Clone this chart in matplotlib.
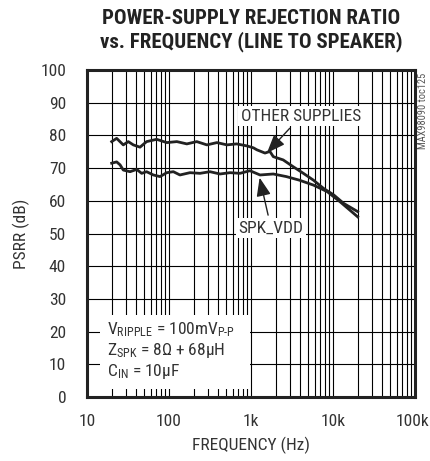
import numpy as np
import matplotlib.pyplot as plt
import matplotlib.transforms as mtransforms
from matplotlib import font_manager as fm
from matplotlib.patches import Rectangle

# look for a narrow sans face; fall back to Liberation Sans
names = sorted(set(f.name for f in fm.fontManager.ttflist))
stretchy = sorted(set(f.name for f in fm.fontManager.ttflist
                      if f.stretch in ('condensed', 'semi-condensed', 'extra-condensed')))
fam = 'Liberation Sans'
stretch = 'normal'
for want in ['Liberation Sans Narrow', 'Roboto Condensed', 'DejaVu Sans Condensed',
             'Open Sans Condensed', 'Noto Sans Condensed']:
    if want in names:
        fam = want
        break
else:
    for n in ['DejaVu Sans', 'Noto Sans', 'Roboto', 'Open Sans']:
        if n in stretchy:
            fam = n
            stretch = 'condensed'
            break

plt.rcParams['font.family'] = [fam, 'DejaVu Sans']
plt.rcParams['font.stretch'] = stretch
plt.rcParams['mathtext.fontset'] = 'custom'
plt.rcParams['mathtext.rm'] = fam
plt.rcParams['mathtext.it'] = fam

FS = 12.5 if fam != 'Liberation Sans' else 11.5

# data
other_f = [20, 23, 27.7, 31.9, 36.7, 44.3, 53.3, 70.7, 93.9, 124.6, 165, 218,
           290, 384, 509, 668, 888, 1070, 1178, 1480, 1700, 1870, 2470, 3280,
           4350, 5780, 7660, 10200, 13500, 20000]
other_db = [78.1, 79.1, 77.1, 78.1, 77.1, 76.4, 78.1, 78.8, 77.8, 78.1, 77.4, 78.1,
            77.1, 77.8, 77.1, 77.4, 76.8, 76.2, 75.6, 74.6, 75.1, 73.5, 72.5, 70.4,
            68.4, 66.3, 63.8, 61.8, 59.2, 56.7]

spk_f = [20, 23, 25.3, 27.7, 33.5, 40.4, 46.4, 53.3, 64.4, 77.7, 93.9, 113,
         136, 180, 239, 316, 419, 555, 734, 970, 1290, 1870, 2700, 3900,
         5780, 8500, 12200, 20000]
spk_db = [71.5, 71.9, 71.0, 69.4, 68.9, 69.6, 68.4, 68.9, 67.9, 67.4, 68.6, 68.9,
          67.9, 68.6, 68.4, 68.9, 68.2, 68.6, 68.4, 69.2, 67.9, 68.2, 67.4, 66.3,
          64.8, 62.8, 59.7, 55.1]

xticks = [10, 100, 1000, 10000, 100000]
xlabels = ['10', '100', '1k', '10k', '100k']
yticks = list(range(0, 101, 10))

fig = plt.figure(figsize=(4.3, 4.61), dpi=100)
ax = fig.add_axes([87/430, 1-397/461, 328/430, 327/461])

ax.plot(other_f, other_db, color='#222222', lw=2.0, zorder=4)
ax.plot(spk_f, spk_db, color='#222222', lw=2.0, zorder=4)

ax.set_xscale('log')
ax.set_xlim(10, 100000)
ax.set_ylim(0, 100)
ax.set_xticks(xticks)
ax.set_xticklabels(xlabels)
ax.set_yticks(yticks)
ax.grid(which='both', color='black', lw=0.8)
ax.tick_params(which='both', length=0, labelsize=FS, colors='#333333')
ax.tick_params(axis='x', pad=12)
ax.tick_params(axis='y', pad=15)
for s in ax.spines.values():
    s.set_linewidth(2.2)
    s.set_color('#222222')
    s.set_zorder(6)

# last x label sits against the right edge, keep it inside the picture
last = ax.get_xticklabels()[-1]
last.set_horizontalalignment('right')
last.set_transform(last.get_transform() +
                   mtransforms.ScaledTranslation(14/100, 0, fig.dpi_scale_trans))

ax.set_xlabel('FREQUENCY (Hz)', fontsize=FS, color='#333333', va='center')
ax.xaxis.set_label_coords(0.5, -0.148)
ax.set_ylabel('PSRR (dB)', fontsize=FS, color='#333333', va='center')
ax.yaxis.set_label_coords(-0.2, 0.5)

# conditions box
ax.add_patch(Rectangle((0.04, 0.025), 0.457, 0.225, transform=ax.transAxes,
                       facecolor='white', edgecolor='none', zorder=3))
cond = [r'$\mathrm{V_{RIPPLE}}$ = 100mV$\mathrm{_{P\text{-}P}}$',
        r'$\mathrm{Z_{SPK}}$ = 8$\Omega$ + 68µH',
        r'$\mathrm{C_{IN}}$ = 10µF']
for i, t in enumerate(cond):
    ax.text(0.061, 0.205 - i*0.064, t, transform=ax.transAxes, fontsize=FS,
            color='#333333', va='center', ha='left', zorder=5)

bb = dict(boxstyle='square,pad=0.15', fc='white', ec='none')
ap = dict(arrowstyle='-|>,head_length=0.9,head_width=0.35', color='#222222', lw=1)
ax.annotate('OTHER SUPPLIES', xy=(1482, 74.0), xytext=(4070, 85.9),
            fontsize=FS, color='#333333', ha='center', va='center',
            bbox=bb, arrowprops=ap, zorder=5)
ax.annotate('SPK_VDD', xy=(1252, 67.9), xytext=(1754, 51.7),
            fontsize=FS, color='#333333', ha='center', va='center',
            bbox=bb, arrowprops=ap, zorder=5)

t1 = fig.text(251/430, 1-18/461, 'POWER-SUPPLY REJECTION RATIO', fontsize=15,
              fontweight='bold', ha='center', va='center', color='#222222')
t2 = fig.text(251/430, 1-42/461, 'vs. FREQUENCY (LINE TO SPEAKER)', fontsize=15,
              fontweight='bold', ha='center', va='center', color='#222222')
# fit the title to the reference width (~298 px for the first line)
r = fig.canvas.get_renderer()
w = t1.get_window_extent(r).width
scale = min(1.0, 298 / w)
t1.set_fontsize(15 * scale)
t2.set_fontsize(15 * scale)

fig.text(423/430, 1-111/461, 'MAX98090 toc125', fontsize=7.5, rotation=90,
         ha='center', va='center', color='#555555')

fig.savefig('out.png', dpi=100)
